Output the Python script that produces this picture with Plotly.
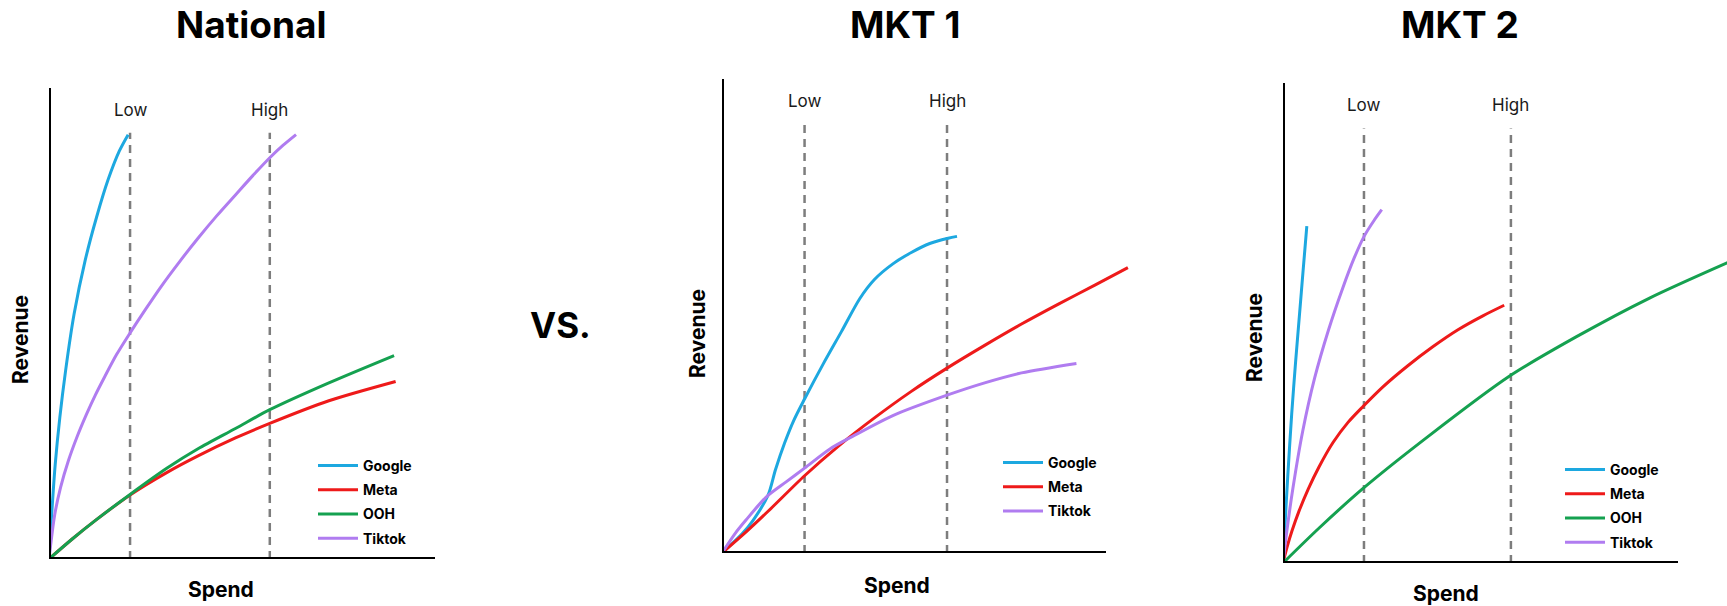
import plotly.graph_objects as go

W, H = 1727, 606
FONT = "Inter"

# ---------------- data (axis units: % of the drawn axis length) ----------------
series_names = ["Google", "Meta", "OOH", "Tiktok"]
series_colors = {"Google": "#1DA8E0", "Meta": "#EE1A1A", "OOH": "#15A150", "Tiktok": "#B07CF0"}

panel_titles = ["National", "MKT 1", "MKT 2"]
marker_labels = ["Low", "High"]

# National
nat_google_x = [0, 0.6, 1.6, 2.8, 4.3, 6.5, 9.4, 12.3, 15.3, 18.2, 20.5]
nat_google_y = [0, 8.3, 20, 30, 40, 52, 63.5, 72.5, 80.5, 86.6, 90.1]
nat_meta_x = [0, 6.1, 12.2, 21.0, 30.6, 38.6, 48.3, 57.2, 72.5, 89.8]
nat_meta_y = [0, 4.3, 8.3, 13.6, 18.4, 21.9, 25.7, 28.8, 33.6, 37.7]
nat_ooh_x = [0, 6.1, 12.2, 21.0, 30.6, 38.6, 48.3, 57.2, 72.5, 89.4]
nat_ooh_y = [0, 4.3, 8.3, 13.7, 19.3, 23.4, 27.7, 31.7, 37.4, 43.2]
nat_tiktok_x = [0, 1.5, 3.0, 5.0, 7.3, 9.7, 12.0, 14.5, 17.5, 21.0, 25.0, 29.0, 33.8, 38.6, 43.5, 48.3, 52.8, 57.2, 60.6, 64.0]
nat_tiktok_y = [0, 9.5, 15.2, 20.8, 26.0, 30.7, 34.8, 38.8, 43.4, 48.0, 53.0, 57.8, 63.1, 68.1, 72.9, 77.3, 81.4, 85.2, 87.8, 90.1]
nat_low, nat_high = 21.0, 57.2

# MKT 1
mkt1_google_x = [0, 5.3, 8.1, 12.0, 13.9, 16.3, 18.7, 21.5, 26.3, 31.1, 35.9, 39.7, 44.5, 49.3, 54.1, 58.9, 61.2]
mkt1_google_y = [0, 4.1, 6.9, 12.2, 17.5, 23.2, 28.0, 32.5, 39.8, 46.7, 53.7, 57.7, 61.0, 63.4, 65.3, 66.4, 66.8]
mkt1_meta_x = [0, 6.2, 12.0, 21.5, 30.1, 39.7, 49.3, 58.6, 68.4, 78.0, 87.6, 97.1, 105.7]
mkt1_meta_y = [0, 4.4, 8.8, 16.3, 22.4, 28.5, 34.1, 39.0, 43.8, 48.3, 52.5, 56.5, 60.2]
mkt1_tiktok_x = [0, 3.4, 6.3, 11.5, 16.7, 21.5, 28.2, 34.0, 44.5, 58.6, 68.4, 78.0, 92.3]
mkt1_tiktok_y = [0, 4.1, 7.0, 11.8, 15.0, 17.9, 22.0, 24.6, 29.0, 33.3, 35.9, 38.0, 40.0]
mkt1_low, mkt1_high = 21.5, 58.6

# MKT 2
mkt2_google_x = [0, 0.43, 1.2, 2.2, 3.2, 4.2, 5.1, 6.03]
mkt2_google_y = [0, 6.8, 18, 31, 42, 52, 61, 70.2]
mkt2_meta_x = [0, 1.01, 2.28, 4.05, 6.33, 9.11, 12.66, 16.46, 20.25, 25.3, 31.6, 38.0, 44.3, 50.6, 56.0]
mkt2_meta_y = [0, 3.25, 6.7, 10.8, 15.3, 20.0, 25.1, 29.3, 32.6, 36.7, 41.1, 45.1, 48.6, 51.5, 53.7]
mkt2_ooh_x = [0, 9.28, 20.5, 37.1, 57.1, 74.2, 92.8, 113.7]
mkt2_ooh_y = [0, 7.4, 15.7, 26.6, 38.8, 47.1, 55.2, 63.0]
mkt2_tiktok_x = [0, 1.0, 2.5, 5.0, 8.0, 11.5, 15.0, 18.0, 20.5, 23.0, 25.0]
mkt2_tiktok_y = [0, 6.8, 15.5, 27.5, 38.5, 48.5, 57, 63.5, 68.0, 71.3, 73.6]
mkt2_low, mkt2_high = 20.5, 57.7

panels = [
    {
        "series": {"Google": (nat_google_x, nat_google_y), "Meta": (nat_meta_x, nat_meta_y),
                   "OOH": (nat_ooh_x, nat_ooh_y), "Tiktok": (nat_tiktok_x, nat_tiktok_y)},
        "low": nat_low, "high": nat_high,
        "px": (49, 435), "py": (559, 88), "xmax_px": 470,
        "title_xy": (251, 24), "rev_xy": (20, 340), "spend_xy": (221, 589),
        "legend_xy": (313, 450),
    },
    {
        "series": {"Google": (mkt1_google_x, mkt1_google_y), "Meta": (mkt1_meta_x, mkt1_meta_y),
                   "Tiktok": (mkt1_tiktok_x, mkt1_tiktok_y)},
        "low": mkt1_low, "high": mkt1_high,
        "px": (722, 1106), "py": (553, 79), "xmax_px": 1140,
        "title_xy": (905, 24), "rev_xy": (697, 334), "spend_xy": (897, 585),
        "legend_xy": (998, 447),
    },
    {
        "series": {"Google": (mkt2_google_x, mkt2_google_y), "Meta": (mkt2_meta_x, mkt2_meta_y),
                   "OOH": (mkt2_ooh_x, mkt2_ooh_y), "Tiktok": (mkt2_tiktok_x, mkt2_tiktok_y)},
        "low": mkt2_low, "high": mkt2_high,
        "px": (1283, 1678), "py": (563, 83), "xmax_px": 1727,
        "title_xy": (1460, 24), "rev_xy": (1254, 338), "spend_xy": (1446, 593),
        "legend_xy": (1560, 454),
    },
]

fig = go.Figure()
shapes, annotations = [], []
layout_axes = {}

for i, p in enumerate(panels):
    n = i + 1
    xa = "x" if n == 1 else f"x{n}"
    ya = "y" if n == 1 else f"y{n}"
    leg = "legend" if n == 1 else f"legend{n}"
    x0p, x1p = p["px"]
    y0p, y1p = p["py"]
    # axis range so that 0..100 spans the drawn axis; domain may extend past it
    xmax = 100 * (p["xmax_px"] - x0p) / (x1p - x0p)
    layout_axes["xaxis" if n == 1 else f"xaxis{n}"] = dict(
        domain=[x0p / W, p["xmax_px"] / W], range=[0, xmax], visible=False,
        anchor=ya, fixedrange=True)
    layout_axes["yaxis" if n == 1 else f"yaxis{n}"] = dict(
        domain=[1 - y0p / H, 1 - y1p / H], range=[0, 100], visible=False,
        anchor=xa, fixedrange=True)

    for name, (xs, ys) in p["series"].items():
        fig.add_trace(go.Scatter(
            x=xs, y=ys, mode="lines", name=name, xaxis=xa, yaxis=ya,
            line=dict(color=series_colors[name], width=3, shape="spline", smoothing=0.8),
            legend=leg, legendgroup=f"{n}-{name}", hoverinfo="skip"))

    # spend markers (Low / High)
    for lbl, xv in zip(marker_labels, (p["low"], p["high"])):
        shapes.append(dict(type="line", xref=xa, yref=ya, x0=xv, x1=xv, y0=0, y1=90.5,
                           line=dict(color="#7d7d7d", width=2.5, dash="8px,6px"), layer="below"))
        annotations.append(dict(xref=xa, yref=ya, x=xv, y=95.4, text=lbl, showarrow=False,
                                font=dict(family=FONT, size=17, color="#1a1a1a"),
                                xanchor="center", yanchor="middle"))

    # axes (L shaped)
    shapes.append(dict(type="path", xref=xa, yref=ya, path="M0,100 L0,0 L100,0",
                       line=dict(color="black", width=4), layer="above"))

    tx, ty = p["title_xy"]
    annotations.append(dict(xref="paper", yref="paper", x=tx / W, y=1 - ty / H, text=f"<b>{panel_titles[i]}</b>",
                            showarrow=False, xanchor="center", yanchor="middle",
                            font=dict(family=FONT, size=37, color="black")))
    rx, ry = p["rev_xy"]
    annotations.append(dict(xref="paper", yref="paper", x=rx / W, y=1 - ry / H, text="<b>Revenue</b>",
                            showarrow=False, xanchor="center", yanchor="middle", textangle=-90,
                            font=dict(family=FONT, size=21, color="black")))
    sx, sy = p["spend_xy"]
    annotations.append(dict(xref="paper", yref="paper", x=sx / W, y=1 - sy / H, text="<b>Spend</b>",
                            showarrow=False, xanchor="center", yanchor="middle",
                            font=dict(family=FONT, size=21, color="black")))
    lx, ly = p["legend_xy"]
    layout_axes[leg] = dict(x=lx / W, y=1 - ly / H, xanchor="left", yanchor="top",
                            bgcolor="rgba(0,0,0,0)", borderwidth=0, tracegroupgap=3,
                            traceorder="grouped", itemwidth=40,
                            font=dict(family=FONT, size=14, color="black", weight="bold"))

annotations.append(dict(xref="paper", yref="paper", x=560 / W, y=1 - 325 / H, text="<b>VS.</b>",
                        showarrow=False, xanchor="center", yanchor="middle",
                        font=dict(family=FONT, size=35, color="black")))

fig.update_layout(
    width=W, height=H, margin=dict(l=0, r=0, t=0, b=0),
    paper_bgcolor="white", plot_bgcolor="rgba(0,0,0,0)",
    shapes=shapes, annotations=annotations, showlegend=True,
    font=dict(family=FONT),
    **layout_axes,
)

fig.write_html(
    "out.html",
    config={"displayModeBar": False},
    post_script="document.body.style.margin='0';document.body.style.overflow='hidden';",
)
